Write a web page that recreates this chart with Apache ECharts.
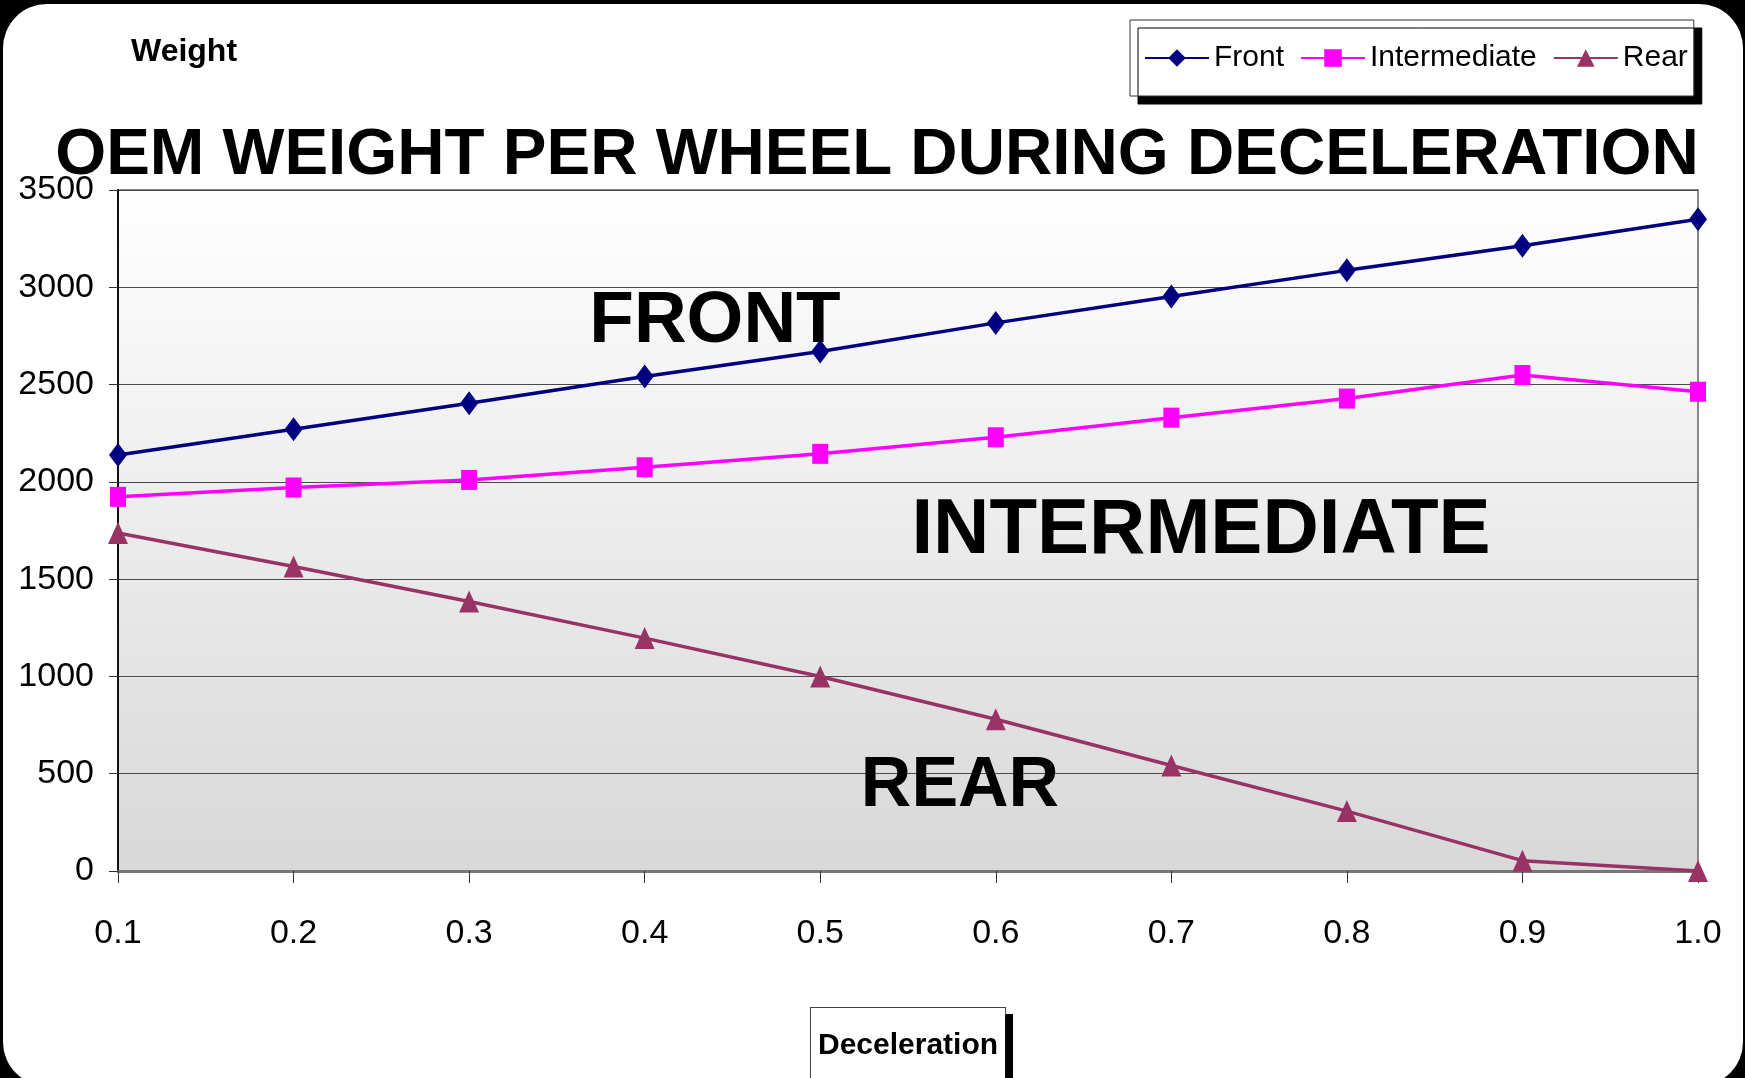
<!DOCTYPE html>
<html>
<head>
<meta charset="utf-8">
<title>OEM Weight per Wheel</title>
<script src="https://cdn.jsdelivr.net/npm/echarts@6/dist/echarts.min.js"></script>
<style>
    html, body { margin: 0; padding: 0; background: #000; overflow: hidden; }
    #panel { position: absolute; left: 3px; top: 4px; width: 1740px; height: 1082px; background: #fff; border-radius: 44px; }
    #main { position: absolute; left: 0; top: 0; width: 1745px; height: 1078px; }
</style>
</head>
<body>
<div id="panel"></div>
<div id="main"></div>
<script>
// x axis categories (deceleration, g)
var decel = ['0.1', '0.2', '0.3', '0.4', '0.5', '0.6', '0.7', '0.8', '0.9', '1.0'];
// weight per wheel
var front = [2138, 2270, 2404, 2541, 2670, 2817, 2953, 3087, 3213, 3350];
var intermediate = [1923, 1971, 2010, 2075, 2144, 2229, 2330, 2428, 2549, 2463];
var rear = [1737, 1565, 1385, 1197, 1000, 780, 542, 308, 53, 0];

var sans = "'Liberation Sans', Arial, sans-serif";

function lineSeries(name, data, color, symbol, size) {
    return {
        name: name,
        type: 'line',
        data: data,
        symbol: symbol,
        symbolSize: size,
        showSymbol: true,
        itemStyle: { color: color },
        lineStyle: { color: color, width: 3.5 },
        emphasis: { disabled: true },
        animation: false
    };
}

var myChart = echarts.init(document.getElementById('main'));

myChart.setOption({
    backgroundColor: 'transparent',
    legend: {
        left: 1130,
        top: 20,
        padding: [23, 6, 23, 14],
        itemGap: 16,
        itemWidth: 64,
        itemHeight: 22,
        backgroundColor: '#fff',
        borderColor: '#333',
        borderWidth: 1,
        shadowColor: '#000',
        shadowBlur: 0,
        shadowOffsetX: 8,
        shadowOffsetY: 8,
        textStyle: { fontFamily: sans, fontSize: 30, color: '#000' },
        data: ['Front', 'Intermediate', 'Rear']
    },
    grid: {
        left: 118,
        right: 47,
        top: 190,
        bottom: 207,
        containLabel: false,
        outerBoundsMode: 'none',
        show: true,
        borderColor: '#888',
        borderWidth: 2,
        backgroundColor: new echarts.graphic.LinearGradient(0, 0, 0, 1, [
            { offset: 0, color: '#ffffff' },
            { offset: 1, color: '#d8d8d8' }
        ])
    },
    xAxis: {
        type: 'category',
        data: decel,
        boundaryGap: false,
        name: 'Deceleration',
        nameLocation: 'middle',
        nameGap: 137,
        nameTextStyle: {
            fontFamily: sans,
            fontWeight: 'bold',
            fontSize: 30,
            color: '#000',
            backgroundColor: '#fff',
            borderColor: '#444',
            borderWidth: 1,
            padding: [23, 7, 30, 7],
            shadowColor: '#000',
            shadowBlur: 0,
            shadowOffsetX: 7,
            shadowOffsetY: 7
        },
        axisLine: { lineStyle: { color: '#777', width: 3 } },
        axisTick: { show: true, length: 12, lineStyle: { color: '#333', width: 1 } },
        axisLabel: { fontFamily: sans, fontSize: 34, color: '#000', margin: 46 },
        splitLine: { show: false }
    },
    yAxis: {
        type: 'value',
        min: 0,
        max: 3500,
        interval: 500,
        name: 'Weight',
        nameLocation: 'end',
        nameGap: 138,
        nameTextStyle: {
            fontFamily: sans,
            fontWeight: 'bold',
            fontSize: 32,
            color: '#000',
            align: 'left',
            verticalAlign: 'middle',
            padding: [0, 0, 0, 13]
        },
        axisLine: { show: true, lineStyle: { color: '#111', width: 2 } },
        axisTick: { show: true, length: 9, lineStyle: { color: '#333', width: 1 } },
        axisLabel: {
            fontFamily: sans, fontSize: 34, color: '#000', margin: 24,
            formatter: function(v) { return String(v); }
        },
        splitLine: { lineStyle: { color: '#4a4a4a', width: 1 } }
    },
    graphic: [
        {
            type: 'text',
            x: 877,
            y: 156,
            style: {
                text: 'OEM WEIGHT PER WHEEL DURING DECELERATION',
                font: 'bold 65.5px ' + sans,
                fill: '#000',
                align: 'center',
                verticalAlign: 'middle'
            }
        },
        {
            type: 'text',
            x: 715,
            y: 322,
            z: 10,
            style: { text: 'FRONT', font: 'bold 73px ' + sans, fill: '#000', align: 'center', verticalAlign: 'middle' }
        },
        {
            type: 'text',
            x: 1201,
            y: 531,
            z: 10,
            style: { text: 'INTERMEDIATE', font: 'bold 78px ' + sans, fill: '#000', align: 'center', verticalAlign: 'middle' }
        },
        {
            type: 'text',
            x: 960,
            y: 787,
            z: 10,
            style: { text: 'REAR', font: 'bold 70px ' + sans, fill: '#000', align: 'center', verticalAlign: 'middle' }
        }
    ],
    series: [
        lineSeries('Front', front, '#000080', 'diamond', [18, 24]),
        lineSeries('Intermediate', intermediate, '#ff00ff', 'rect', [16, 20]),
        lineSeries('Rear', rear, '#993366', 'triangle', [20, 22])
    ]
});
</script>
</body>
</html>
